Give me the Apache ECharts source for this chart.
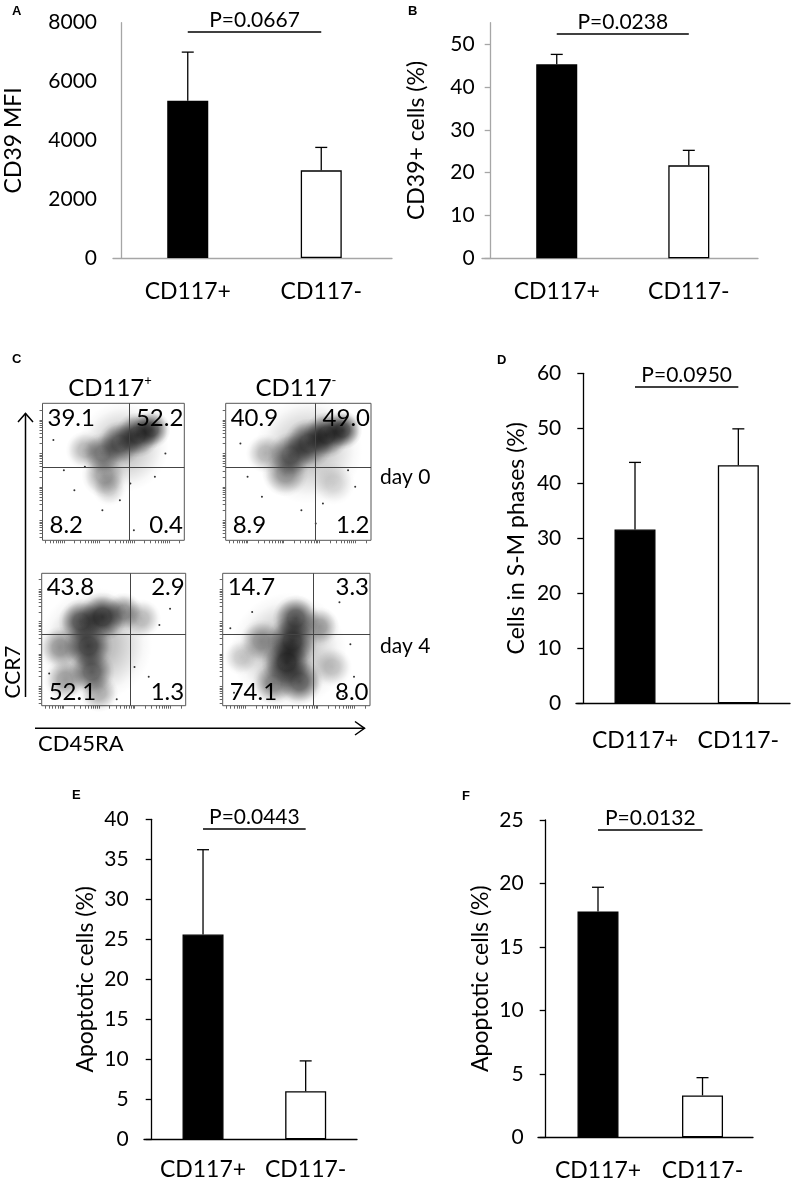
<!DOCTYPE html>
<html>
<head>
<meta charset="utf-8">
<title>CD117 figure</title>
<script src="https://cdn.jsdelivr.net/npm/echarts@6/dist/echarts.min.js"></script>
<style>
html, body { margin: 0; padding: 0; background: #fff; }
#main { width: 795px; height: 1185px; }
</style>
</head>
<body>
<div id="main"></div>
<script>
// ---- data ----
var groups = ['CD117+', 'CD117-'];

// bar panels: mean and top of the SD bar
var mfiMean = [5350, 2980],  mfiTop = [7000, 3760];    // A
var cd39Mean = [45.3, 21.7], cd39Top = [47.6, 25.2];   // B
var smMean = [31.6, 43.3],   smTop = [43.8, 49.9];     // D
var apoEMean = [25.6, 6.0],  apoETop = [36.2, 9.8];    // E
var apoFMean = [17.8, 3.3],  apoFTop = [19.7, 4.7];    // F

var pText = ['P=0.0667', 'P=0.0238', 'P=0.0950', 'P=0.0443', 'P=0.0132'];
var pLevel = [7700, 52.5, 57.6, 38.8, 24.25];

var ticksA = [0, 2000, 4000, 6000, 8000];
var ticksB = [0, 10, 20, 30, 40, 50];
var ticksD = [0, 10, 20, 30, 40, 50, 60];
var ticksE = [0, 5, 10, 15, 20, 25, 30, 35, 40];
var ticksF = [0, 5, 10, 15, 20, 25];

var yNames = ['CD39 MFI', 'CD39+ cells (%)', 'Cells in S-M phases (%)', 'Apoptotic cells (%)', 'Apoptotic cells (%)'];

// panel C: flow plots, axes in log decades
var flowCols = ['CD117', 'CD117'];
var flowSup = ['+', '-'];
var flowDays = ['day 0', 'day 4'];
var quadX = 1.88, quadY = 1.6;
var flowQuad = [          // UL, UR, LL, LR
  ['39.1', '52.2', '8.2', '0.4'],
  ['40.9', '49.0', '8.9', '1.2'],
  ['43.8', '2.9', '52.1', '1.3'],
  ['14.7', '3.3', '74.1', '8.0']
];
// density clouds: [x, y, spread (decades), weight]
var cloud1 = [
  [1.7, 2.2, 2.6, 0.3], [1.15, 1.35, 1.3, 0.45], [1.3, 0.95, 1.0, 0.25], [0.6, 2.1, 1.1, 0.35],
  [1.1, 2.0, 1.2, 0.55], [1.6, 2.3, 1.3, 0.75], [2.1, 2.55, 1.3, 0.9], [2.5, 2.72, 1.1, 0.85]
];
var cloud2 = [
  [1.7, 2.1, 3.0, 0.3], [1.05, 1.4, 1.3, 0.5], [2.4, 1.1, 1.2, 0.2], [0.5, 2.0, 1.1, 0.35],
  [1.2, 1.95, 1.3, 0.7], [1.7, 2.3, 1.4, 0.85], [2.2, 2.55, 1.3, 0.95], [2.65, 2.7, 1.1, 0.9]
];
var cloud3 = [
  [0.9, 1.3, 3.2, 0.35], [-0.1, 1.2, 1.2, 0.45], [0.05, 0.2, 1.2, 0.45], [2.2, 2.1, 1.1, 0.35],
  [1.0, -0.2, 1.1, 0.4], [0.5, 2.0, 1.3, 0.8], [1.1, 2.15, 1.4, 0.95], [1.7, 2.3, 1.1, 0.55],
  [0.7, 1.25, 1.4, 0.85], [0.8, 0.45, 1.3, 0.7]
];
var cloud4 = [
  [1.2, 1.1, 3.2, 0.35], [0.45, 1.4, 1.2, 0.45], [2.4, 0.6, 1.1, 0.3], [-0.1, 0.9, 1.0, 0.25],
  [2.05, 1.85, 1.1, 0.45], [1.4, 2.1, 1.3, 0.8], [1.3, 1.4, 1.4, 0.9], [1.15, 0.75, 1.4, 0.95],
  [1.5, 0.15, 1.3, 0.75], [0.8, 0.1, 1.2, 0.55]
];
// single events outside the clouds
var dots1 = [[0.3, 0.9], [1.1, 0.3], [2.0, -0.3], [-0.3, 2.4], [2.6, 1.3], [0.0, 1.5], [1.6, 0.6], [2.9, 2.0], [0.6, 1.6], [1.9, 1.1]];
var dots2 = [[0.0, 1.3], [2.1, 0.5], [2.8, 1.5], [1.5, 0.3], [0.4, 0.7], [-0.2, 2.3], [3.0, 1.0], [1.9, -0.1]];
var dots3 = [[2.7, 1.9], [2.4, 0.3], [-0.4, 0.4], [3.0, 2.4], [1.5, -0.4], [2.0, 0.6]];
var dots4 = [[2.9, 1.3], [3.0, 0.3], [-0.4, 1.8], [0.2, 2.3], [2.6, 2.6], [-0.3, -0.2], [2.7, -0.3]];

// ---- layout ----
var FONT = 'Lato';
var bars = [
  {mean: mfiMean, top: mfiTop, ticks: ticksA, max: 8000},
  {mean: cd39Mean, top: cd39Top, ticks: ticksB, max: 55},
  {mean: smMean, top: smTop, ticks: ticksD, max: 60},
  {mean: apoEMean, top: apoETop, ticks: ticksE, max: 40},
  {mean: apoFMean, top: apoFTop, ticks: ticksF, max: 25}
];
var barBox = [
  {left: 113, top: 22.7, width: 279, height: 235.3, min: -0.56, max: 1.53, off: -8, col: '#a6a6a6', lm: 24, gap: 96, xm: 22, tick: 0},
  {left: 482, top: 22.7, width: 276, height: 235.6, min: -0.566, max: 1.524, off: -8.7, col: '#a6a6a6', lm: 16, gap: 63, xm: 22, tick: 6},
  {left: 576, top: 373.3, width: 214, height: 330, min: -0.571, max: 1.5, off: -7.3, col: '#000', lm: 22, gap: 55, xm: 26, tick: 6},
  {left: 144, top: 819.3, width: 213, height: 320, min: -0.575, max: 1.5, off: -7.7, col: '#000', lm: 23, gap: 55, xm: 19, tick: 6},
  {left: 538, top: 820, width: 215, height: 317.3, min: -0.574, max: 1.483, off: -7.7, col: '#000', lm: 22, gap: 54, xm: 22, tick: 6}
];
var flowBox = [
  {left: 42.5, top: 403.3, width: 141.8, height: 137},
  {left: 225.7, top: 403.3, width: 145.3, height: 137},
  {left: 41.7, top: 573.3, width: 144, height: 132.4},
  {left: 222.7, top: 573.3, width: 147.3, height: 132.4}
];
var flowX = [-0.61, 3.44], flowY = [-0.6, 3.5];
var clouds = [cloud1, cloud2, cloud3, cloud4];
var dots = [dots1, dots2, dots3, dots4];

// log style ticks (decade + minor)
var logTicks = [];
for (var d = -1; d <= 3; d++) {
  for (var k = 1; k <= 9; k++) {
    var v = d + Math.log10(k);
    if (v >= flowX[0] && v <= flowX[1]) logTicks.push(v);
  }
}

function blobColor(w) {
  // flat-topped soft falloff so neighbouring blobs merge
  return new echarts.graphic.RadialGradient(0.5, 0.5, 0.5, [
    {offset: 0, color: 'rgba(0,0,0,' + w + ')'},
    {offset: 0.35, color: 'rgba(0,0,0,' + (w * 0.85) + ')'},
    {offset: 0.65, color: 'rgba(0,0,0,' + (w * 0.4) + ')'},
    {offset: 0.85, color: 'rgba(0,0,0,' + (w * 0.1) + ')'},
    {offset: 1, color: 'rgba(0,0,0,0)'}
  ]);
}

function renderErr(params, api) {
  var x = api.value(0);
  var base = api.coord([x, api.value(1)]);
  var tip = api.coord([x, api.value(2)]);
  var st = {stroke: '#000', lineWidth: 1.3};
  return {
    type: 'group',
    children: [
      {type: 'line', shape: {x1: base[0], y1: base[1], x2: tip[0], y2: tip[1]}, style: st},
      {type: 'line', shape: {x1: tip[0] - 6, y1: tip[1], x2: tip[0] + 6, y2: tip[1]}, style: st}
    ]
  };
}

var grid = [], xAxis = [], yAxis = [], series = [], graphic = [];

bars.forEach(function (b, i) {
  var L = barBox[i];
  grid.push({left: L.left, top: L.top, width: L.width, height: L.height});
  xAxis.push({
    type: 'value', gridIndex: i, min: L.min, max: L.max,
    axisLine: {onZero: false, lineStyle: {color: L.col, width: 1.3}},
    axisTick: {show: false}, splitLine: {show: false},
    axisLabel: {
      customValues: [0, 1], margin: L.xm, color: '#000', fontSize: 23, fontFamily: FONT,
      formatter: function (v) { return groups[Math.round(v)]; }
    }
  });
  yAxis.push({
    type: 'value', gridIndex: i, min: 0, max: b.max, offset: L.off,
    name: yNames[i], nameLocation: 'middle', nameRotate: 90, nameGap: L.gap, nameMoveOverlap: false,
    nameTextStyle: {color: '#000', fontSize: 23, fontFamily: FONT},
    axisLine: {show: true, onZero: false, lineStyle: {color: L.col, width: 1.3}},
    axisTick: {show: L.tick > 0, customValues: b.ticks, length: L.tick, lineStyle: {color: L.col, width: 1.3}},
    axisLabel: {
      customValues: b.ticks, margin: L.lm, color: '#000', fontSize: 21, fontFamily: FONT,
      formatter: function (v) { return String(v); }
    },
    splitLine: {show: false}
  });
  series.push({
    type: 'bar', xAxisIndex: i, yAxisIndex: i, barWidth: 41, silent: true,
    data: b.mean.map(function (m, j) {
      return {
        value: [j, m],
        itemStyle: j === 0 ? {color: '#000', borderColor: '#000', borderWidth: 1.3}
                           : {color: '#fff', borderColor: '#000', borderWidth: 1.3}
      };
    }),
    markLine: {
      silent: true, symbol: ['none', 'none'],
      lineStyle: {color: '#000', width: 1.5, type: 'solid'},
      label: {show: true, position: 'middle', formatter: pText[i], color: '#000', fontSize: 21, fontFamily: FONT, distance: 1},
      data: [[{coord: [0, pLevel[i]]}, {coord: [1, pLevel[i]]}]]
    }
  });
  series.push({
    type: 'custom', xAxisIndex: i, yAxisIndex: i, silent: true, z: 3,
    renderItem: renderErr,
    data: b.mean.map(function (m, j) { return [j, m, b.top[j]]; })
  });
});

flowBox.forEach(function (L, i) {
  var gi = 5 + i;
  var ppd = L.width / (flowX[1] - flowX[0]);
  grid.push({left: L.left, top: L.top, width: L.width, height: L.height, show: true, borderColor: '#555', borderWidth: 1, backgroundColor: 'transparent'});
  xAxis.push({
    type: 'value', gridIndex: gi, min: flowX[0], max: flowX[1],
    axisLine: {show: false, onZero: false}, splitLine: {show: false}, axisLabel: {show: false},
    axisTick: {show: true, customValues: logTicks, length: 3, lineStyle: {color: '#666'}}
  });
  yAxis.push({
    type: 'value', gridIndex: gi, min: flowY[0], max: flowY[1],
    axisLine: {show: false, onZero: false}, splitLine: {show: false}, axisLabel: {show: false},
    axisTick: {show: true, customValues: logTicks, length: 3, lineStyle: {color: '#666'}}
  });
  series.push({
    type: 'scatter', xAxisIndex: gi, yAxisIndex: gi, silent: true, z: 2, clip: true,
    data: clouds[i].map(function (c) {
      return {value: [c[0], c[1]], symbolSize: c[2] * ppd, itemStyle: {color: blobColor(c[3])}};
    })
  });
  series.push({
    type: 'scatter', xAxisIndex: gi, yAxisIndex: gi, silent: true, z: 3, clip: true,
    symbolSize: 2, itemStyle: {color: '#000'},
    data: dots[i],
    markLine: {
      silent: true, symbol: ['none', 'none'], label: {show: false},
      lineStyle: {color: '#444', width: 1, type: 'solid'},
      data: [{xAxis: quadX}, {yAxis: quadY}]
    }
  });
  // quadrant percentages
  var q = flowQuad[i];
  var top = L.top, bot = L.top + L.height, lft = L.left, rgt = L.left + L.width;
  var dyT = i < 2 ? 15 : 14, dyB = i < 2 ? 15 : 13;
  var qs = {fill: '#000', fontSize: 24, fontFamily: FONT, verticalAlign: 'middle'};
  graphic.push({type: 'text', x: lft + 5, y: top + dyT, z: 10, style: Object.assign({text: q[0], align: 'left'}, qs)});
  graphic.push({type: 'text', x: rgt - 1, y: top + dyT, z: 10, style: Object.assign({text: q[1], align: 'right'}, qs)});
  graphic.push({type: 'text', x: lft + 7, y: bot - dyB, z: 10, style: Object.assign({text: q[2], align: 'left'}, qs)});
  graphic.push({type: 'text', x: rgt - 1.5, y: bot - dyB, z: 10, style: Object.assign({text: q[3], align: 'right'}, qs)});
});

// panel letters
var letters = [['A', 12, 11], ['B', 408, 11], ['C', 12, 359], ['D', 497, 360], ['E', 72, 795], ['F', 462, 796]];
letters.forEach(function (l) {
  graphic.push({type: 'text', x: l[1], y: l[2], style: {text: l[0], fill: '#000', font: 'bold 13px "Liberation Sans", Arial', align: 'left', verticalAlign: 'middle'}});
});

// panel C headers and labels
[110, 296].forEach(function (cx, i) {
  graphic.push({type: 'text', x: cx, y: 388, style: {
    text: '{a|' + flowCols[i] + '}{s|' + flowSup[i] + '}', align: 'center', verticalAlign: 'middle',
    rich: {
      a: {fontSize: 24, fontFamily: FONT, fill: '#000', lineHeight: 28},
      s: {fontSize: 13, fontFamily: FONT, fill: '#000', verticalAlign: 'top', lineHeight: 13}
    }
  }});
});
[477, 646].forEach(function (cy, i) {
  graphic.push({type: 'text', x: 380, y: cy, style: {text: flowDays[i], fill: '#000', fontSize: 21, fontFamily: FONT, align: 'left', verticalAlign: 'middle'}});
});
graphic.push({type: 'text', x: 13, y: 672, rotation: Math.PI / 2, style: {text: 'CCR7', fill: '#000', fontSize: 21, fontFamily: FONT, align: 'center', verticalAlign: 'middle'}});
graphic.push({type: 'text', x: 38, y: 744, style: {text: 'CD45RA', fill: '#000', fontSize: 22, fontFamily: FONT, align: 'left', verticalAlign: 'middle'}});
var arrowStyle = {stroke: '#000', lineWidth: 1.5, fill: null};
graphic.push({type: 'polyline', shape: {points: [[25.5, 697], [25.5, 413.5]]}, style: arrowStyle});
graphic.push({type: 'polyline', shape: {points: [[18, 422], [25.5, 413.5], [33, 422]]}, style: arrowStyle});
graphic.push({type: 'polyline', shape: {points: [[35, 728.3], [364.5, 728.3]]}, style: arrowStyle});
graphic.push({type: 'polyline', shape: {points: [[355, 721.5], [364.5, 728.3], [355, 735]]}, style: arrowStyle});

var myChart = echarts.init(document.getElementById('main'));
var option = {
  animation: false,
  backgroundColor: '#fff',
  textStyle: {fontFamily: FONT},
  grid: grid,
  xAxis: xAxis,
  yAxis: yAxis,
  series: series,
  graphic: graphic
};
myChart.setOption(option);
</script>
</body>
</html>
